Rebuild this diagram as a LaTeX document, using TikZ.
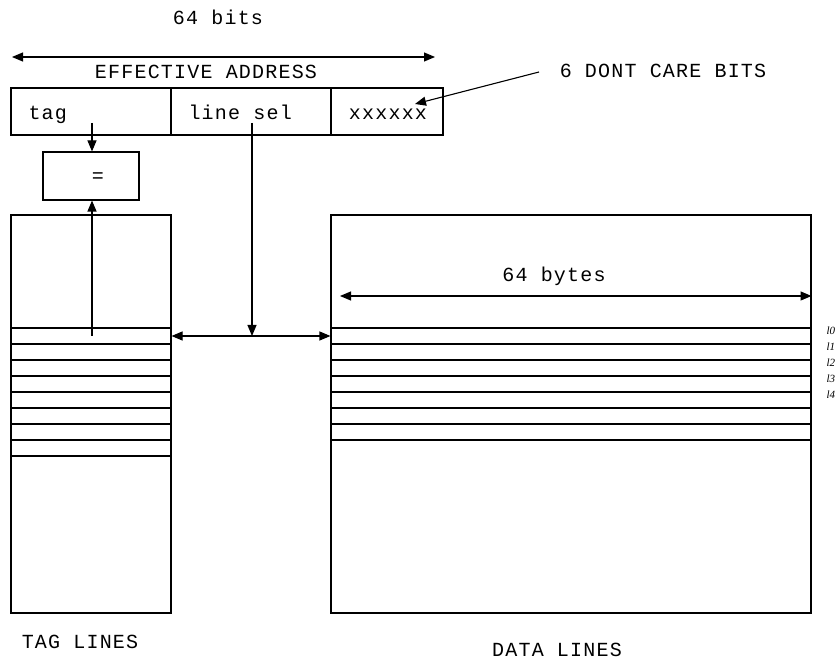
\documentclass[tikz,border=0pt]{standalone}
\usepackage{fontspec}
\usepackage{tikz}
\usetikzlibrary{calc,positioning,arrows.meta}
\newfontfamily\monofont[LetterSpace=6]{Liberation Mono}
\newfontfamily\lblfont{Liberation Serif}

\begin{document}
\begin{tikzpicture}[
  x=1pt, y=-1pt, line width=1.1pt,
  field/.style={draw, minimum height=47pt, inner sep=0pt},
  txt/.style={font=\monofont\fontsize{20}{22}\selectfont, inner sep=0pt, anchor=base},
  arr/.style={draw, minimum height=398pt, inner sep=0pt},
  tip/.style={-{Triangle[length=11pt,width=9pt]}},
  dtip/.style={{Triangle[length=11pt,width=9pt]}-{Triangle[length=11pt,width=9pt]}},
  lbl/.style={font=\lblfont\itshape\fontsize{11}{12}\selectfont, inner sep=0pt, anchor=base west},
]
  \useasboundingbox (0,0) rectangle (839,660);

  % address word
  \node[txt] (bits) at (218,25) {64 bits};
  \coordinate (wl) at (12,57);
  \coordinate (wr) at (435,57);
  \draw[dtip] (wl) -- (wr);
  \node[txt] (ea) at (206,79) {EFFECTIVE ADDRESS};
  \node[field, minimum width=160pt] (tagfld) at (91,111.5) {};
  \node[field, minimum width=160pt] (selfld) at (251,111.5) {};
  \node[field, minimum width=112pt] (dcfld) at (387,111.5) {};
  \node[txt, anchor=base west] (tagtxt) at (28,120) {tag};
  \node[txt, anchor=base west] (seltxt) at (188,120) {line sel};
  \node[txt] (dctxt) at (388,120) {xxxxxx};

  \node[txt] (dcnote) at (663,78) {6 DONT CARE BITS};
  \coordinate (dcfrom) at (539,72);
  \coordinate (dcto) at (415,104);
  \draw[tip] (dcfrom) -- (dcto);

  % compare
  \node[field, minimum width=96pt, minimum height=48pt] (eq) at (91,176) {};
  \node[txt] (eqtxt) at (98,183) {=};

  % tag and data arrays
  \node[arr, minimum width=160pt] (tagarr) at (91,414) {};
  \node[arr, minimum width=480pt] (dataarr) at (571,414) {};
  \foreach \k in {0,...,8}
    \draw (tagarr.west |- 0,328+16*\k) -- (tagarr.east |- 0,328+16*\k);
  \foreach \k in {0,...,7}
    \draw (dataarr.west |- 0,328+16*\k) -- (dataarr.east |- 0,328+16*\k);
  \foreach \k in {0,...,4}
    \node[lbl] (l\k) at (826,335+16*\k) {l\k};

  \node[txt] (bytes) at (554,282) {64 bytes};
  \coordinate (bl) at (340,296);
  \draw[dtip] (bl) -- (dataarr.east |- bl);

  % connections
  \coordinate (tagtap) at (92,123);
  \coordinate (seltap) at (252,123);
  \coordinate (row0) at (92,336);
  \coordinate (mid) at (252,336);
  \draw[tip] (tagtap) -- (eq.north -| tagtap);
  \draw[tip] (row0) -- (eq.south -| row0);
  \draw[tip] (seltap) -- (mid);
  \draw[dtip] (tagarr.east |- mid) -- (dataarr.west |- mid);

  \node[txt] (taglines) at (80,648) {TAG LINES};
  \node[txt] (datalines) at (557,656) {DATA LINES};
\end{tikzpicture}
\end{document}
